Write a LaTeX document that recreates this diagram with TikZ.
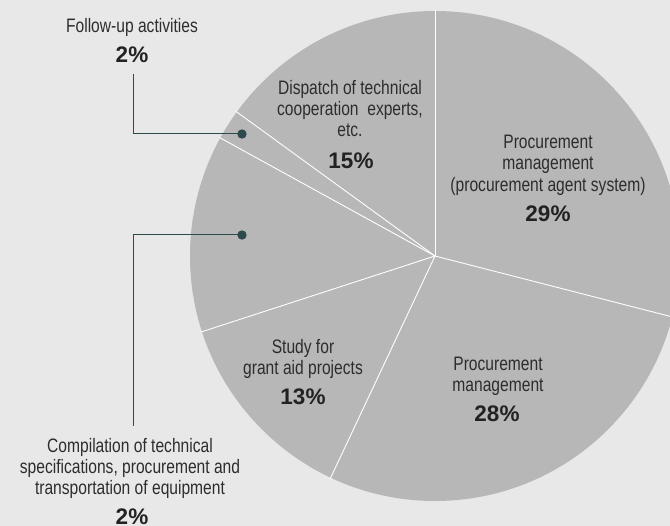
\documentclass[tikz,border=0pt]{standalone}
\usepackage{fontspec}
\setmainfont{Liberation Sans}[FakeStretch=0.8]
\newfontfamily\pctfont{Liberation Sans}
\definecolor{bgc}{RGB}{232,232,232}
\definecolor{piec}{RGB}{184,183,184}
\definecolor{txt}{RGB}{45,45,45}
\definecolor{pcttxt}{RGB}{34,34,34}
\definecolor{leader}{RGB}{47,74,76}
\tikzset{
  lbl/.style={anchor=north, inner sep=0pt, align=center, text=txt,
    font=\fontsize{19.5}{21.3}\selectfont},
  pct/.style={anchor=north, inner sep=0pt, text=pcttxt,
    font=\pctfont\bfseries\fontsize{22.5}{26}\selectfont},
  sep/.style={draw=white, line width=0.9pt},
  lead/.style={draw=leader, line width=1pt},
  dotc/.style={fill=leader}
}
\begin{document}
\begin{tikzpicture}[x=1pt,y=-1pt]
\useasboundingbox (0,0) rectangle (670,526);
\fill[bgc] (0,0) rectangle (670,526);
\begin{scope}
\clip (0,0) rectangle (670,526);
\coordinate (c) at (435,256);
\fill[piec] (c) circle[radius=245pt];
\draw[sep] (c) -- ++(90:246pt);
\draw[sep] (c) -- ++(-14.4:246pt);
\draw[sep] (c) -- ++(-115.2:246pt);
\draw[sep] (c) -- ++(198:246pt);
\draw[sep] (c) -- ++(151.2:246pt);
\draw[sep] (c) -- ++(144:246pt);
\end{scope}

% labels
\node[lbl] (fu) at (132,18) {Follow-up activities};
\node[pct] (fupct) at (132,47) {2\%};

\node[lbl] (disp) at (350,80) {Dispatch of technical\\cooperation~ experts,\\etc.};
\node[pct] (disppct) at (351,153) {15\%};

\node[lbl] (pas) at (548,135) {Procurement\\management\\(procurement agent system)};
\node[pct] (paspct) at (548,206) {29\%};

\node[lbl] (study) at (303,339) {Study for\\grant aid projects};
\node[pct] (studypct) at (303,389) {13\%};

\node[lbl] (pm) at (498,357) {Procurement\\management};
\node[pct] (pmpct) at (497,406) {28\%};

\node[lbl] (comp) at (130,438) {Compilation of technical\\specifications, procurement and\\transportation of equipment};
\node[pct] (comppct) at (132,509) {2\%};

% leaders
\coordinate (dotF) at (242,134);
\coordinate (dotC) at (242,235);
\coordinate (fuEnd) at (133,74);
\coordinate (cpEnd) at (133,426);
\draw[lead] (dotF) -| (fuEnd);
\draw[lead] (dotC) -| (cpEnd);
\fill[dotc] (dotF) circle[radius=4.7pt];
\fill[dotc] (dotC) circle[radius=4.7pt];
\end{tikzpicture}
\end{document}
